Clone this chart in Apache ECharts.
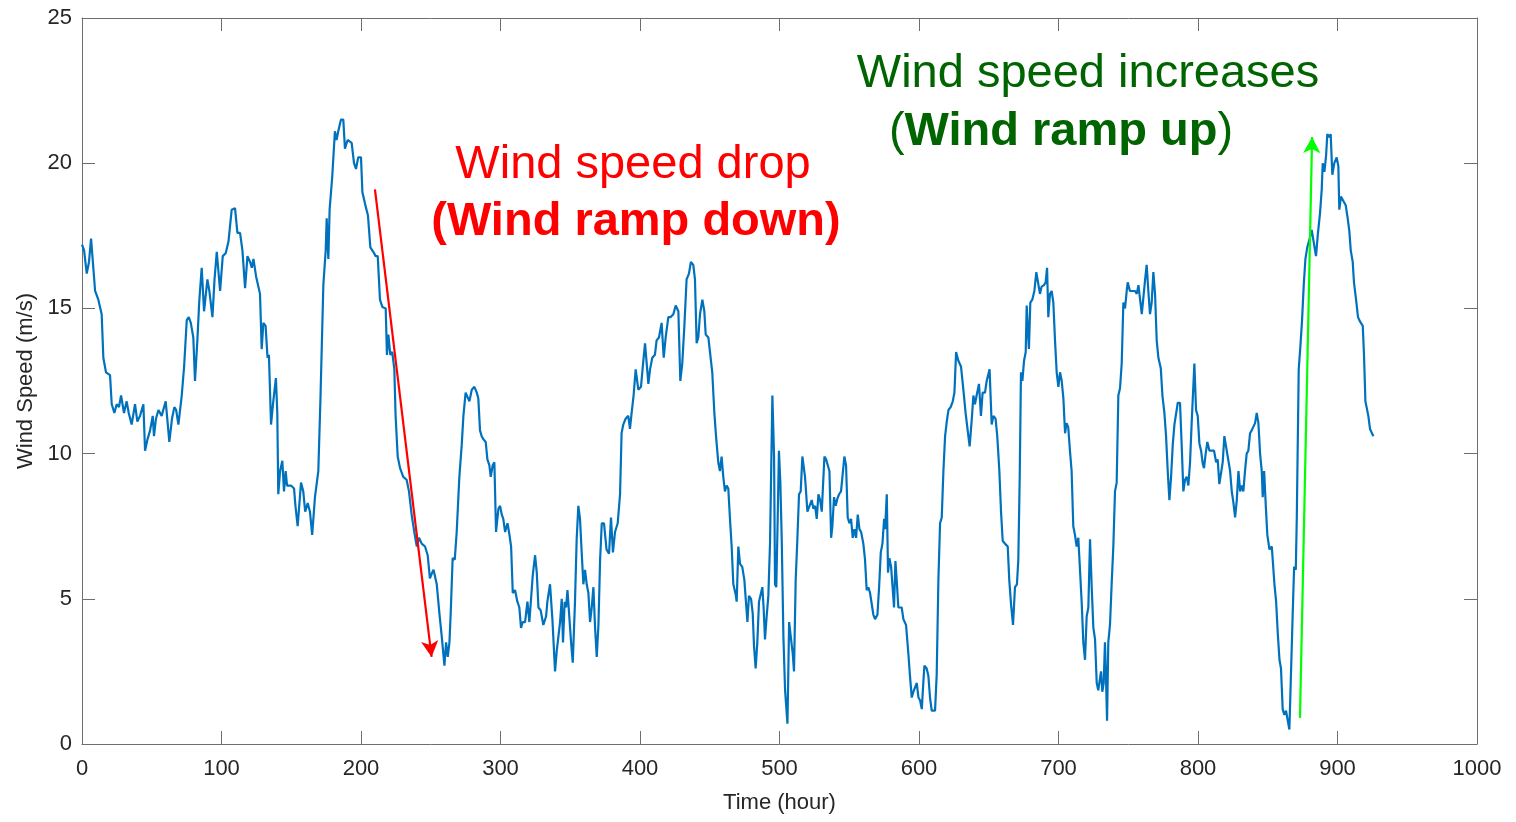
<!DOCTYPE html>
<html>
<head>
<meta charset="utf-8">
<script src="https://cdn.jsdelivr.net/npm/echarts@6/dist/echarts.min.js"></script>
<style>html,body{margin:0;padding:0;background:#fff}#c{width:1516px;height:822px}</style>
</head>
<body>
<div id="c"></div>
<script>
// [hour, wind speed m/s]
const windSpeed = [
[0,17.2],[1.5,17.0],[3.4,16.2],[5,16.6],[6.5,17.4],[7.7,17.4],[9.4,15.6],[11.7,15.3],[14.1,14.8],[15.3,13.3],[17.2,12.8],[20.1,12.7],[21.3,11.7],[23.2,11.4],[24.9,11.7],[26.5,11.6],[28,12.0],[30.1,11.4],[32,11.8],[33.5,11.4],[35.6,11.0],[38,11.7],[39.7,11.1],[41.6,11.3],[44,11.7],[45.2,10.1],[47,10.5],[48.8,10.8],[50.7,11.3],[51.6,10.6],[53,11.2],[54.8,11.5],[57.1,11.3],[60,11.8],[61.5,11.0],[62.6,10.4],[64.5,11.2],[66.2,11.6],[67.5,11.5],[69.1,11.0],[71.5,12.0],[73.2,13.0],[75.1,14.6],[76.5,14.7],[78,14.5],[79.8,14.0],[81,12.5],[82.7,13.9],[84,15.2],[85.8,16.4],[87.5,14.9],[89.9,16.0],[91.3,15.6],[93.5,14.7],[95,16.0],[96.6,16.95],[99,15.6],[100.9,16.8],[103,16.9],[105,17.3],[107.3,18.4],[109.7,18.45],[111.4,17.6],[113.3,17.6],[115,17.0],[116.9,15.7],[118.6,16.8],[120.5,16.6],[121.7,16.4],[122.9,16.7],[124.8,16.1],
[127.6,15.5],[128.8,13.6],[130,14.5],[131.6,14.4],[133,13.3],[134,13.4],[135.5,11.0],[137,11.75],[139,12.6],[140,11.4],[140.7,8.6],[142,9.4],[143.6,9.75],[144.8,8.7],[146,9.4],[147,8.9],[149.8,8.9],[152,8.8],[153,8.2],[154.6,7.5],[157,9.0],[158.6,8.7],[160,8.0],[161.8,8.3],[163.4,8.0],[165,7.2],[167,8.5],[169.4,9.4],[171,12.0],[173,15.8],[174.7,17.0],[175.4,18.1],[176.6,16.7],[177.5,18.4],[179.4,19.55],[181.3,21.1],[182.5,20.8],[183.7,21.1],[185.6,21.5],[187.3,21.5],[188.5,20.5],[190.4,20.8],[193.3,20.7],[195,20.0],[196.4,19.8],[198,20.2],[200,20.2],[201,19.0],[202.9,18.6],[205,18.2],[206.7,17.1],[208.8,16.95],[210.5,16.8],[212,16.8],[213.6,15.3],[215.3,15.05],[217.7,15.0],[218.6,13.4],[219.6,14.1],[221,13.4],[222.4,13.5],[223.9,12.9],[224.8,11.3],[226.3,9.9],[228,9.5],[230.3,9.2],[232.7,9.1],[234.4,8.7],[236.3,7.9],[238.2,7.3],[240,6.8],[241.6,7.1],[243.5,6.9],[245.9,6.8],[247.8,6.5],[249.4,5.7],[251,5.9],
[252,6.0],[254.3,5.5],[256.2,4.5],[257.9,3.7],[259.8,2.7],[261,3.5],[262.2,3.0],[263.4,3.5],[264.3,4.5],[265.7,6.4],[267.2,6.35],[268.6,7.3],[270.5,9.2],[272.2,10.3],[273.4,11.3],[275,12.1],[276.3,12.1],[277.7,11.8],[279.4,12.2],[281.3,12.3],[283,12.1],[284.1,11.9],[285.3,10.8],[286.5,10.6],[287.7,10.5],[289.4,10.4],[290.6,9.8],[292,9.6],[293,9.2],[294.4,9.6],[295.6,9.7],[296.8,7.3],[298.5,8.1],[299.7,8.2],[300.9,7.9],[302,7.75],[303.3,7.3],[305,7.6],[306.1,7.3],[307.6,6.8],[308.8,5.2],[310.4,5.3],[312.1,4.9],[313.5,4.7],[314.7,4.0],[315.9,4.2],[317.6,4.2],[319.3,4.9],[320.7,4.2],[321.9,5.0],[323.1,5.8],[324.8,6.5],[326,5.9],[327.2,4.7],[328.8,4.6],[330.7,4.1],[332.7,4.4],[333.6,4.9],[335.5,5.5],[337.2,4.3],[339.1,2.5],[340.3,3.2],[341.5,3.25],[342.7,4.2],[343.9,5.0],[344.8,3.5],[346,4.9],[347,4.7],[348,5.3],[349.4,5.3],[350.6,3.5],[351.8,2.8],[353.4,4.9],[354.6,7.05],[355.8,8.2],[357,7.75],[358.2,6.6],[359.4,5.5],[360.6,6.0],[361.8,5.5],[363,5.2],[364.2,4.2],[365.4,4.7],[366.6,5.4],[367.8,4.0],[369,3.0],[370.2,4.1],[371.4,6.35],[372.6,7.6],[374.2,7.6],
[376,6.7],[377.8,6.55],[379.2,7.8],[380.6,6.6],[382.1,7.3],[384,7.6],[385.7,8.6],[386.8,10.7],[388,11.0],[389.7,11.2],[391.6,11.3],[392.8,10.85],[394,11.4],[395.4,12.0],[396.9,12.9],[398.1,12.9],[398.8,12.2],[400.7,12.3],[402.4,13.2],[403.6,13.8],[404.8,13.1],[406,12.4],[407.2,12.9],[408.8,13.3],[410.7,13.4],[411.9,13.9],[413.6,14.0],[415.5,14.5],[417,13.3],[418.4,14.0],[420.3,14.7],[422,14.7],[423.9,14.8],[425.6,15.1],[427.5,14.9],[428.9,12.5],[430.3,13.1],[431.8,14.4],[433.4,16.0],[435.1,16.2],[436.5,16.6],[438.2,16.5],[439.4,16.0],[440.6,13.8],[441.8,14.0],[443,14.8],[444.7,15.3],[446.1,14.9],[447.1,14.1],[449,14.0],[450.4,13.4],[451.8,12.8],[453.3,11.4],[454.5,10.6],[456.1,9.7],[457.3,9.4],[458.5,9.9],[459.7,9.2],[460.9,8.7],[462.1,8.9],[463.3,8.8],[464.5,7.75],[465.7,6.8],[466.9,5.5],[468.6,5.15],[469.3,4.9],[470.5,6.8],[471.7,6.2],[473.3,6.1],[474.8,5.65],[476,5.6],[477,4.2],[478.1,5.1],[479.6,5.0],[480.8,4.5],[481.7,3.4],[482.9,2.6],[484.1,3.5],[485.3,4.9],[486.5,4.9],[487.7,5.4],[488.6,4.7],[489.6,3.6],[490.8,4.4],[492,5.1],[493.2,6.9],[494.9,12.0],[496.1,9.9],[496.8,5.5],[497.7,5.4],[498.7,7.75],[499.6,10.1],[500.6,9.0],[501.6,7.05],[502.8,3.7],[504,1.85],[505.7,0.7],
[506.9,4.2],[508,4.2],[509.5,3.1],[510.4,2.5],[511.6,5.65],[512.8,7.05],[514,8.6],[515.2,8.7],[516.4,9.9],[517.1,9.9],[518.3,9.2],[520,8.0],[521.4,8.0],[523.1,8.4],[524.3,8.1],[525.5,8.2],[526.7,7.75],[527.9,8.6],[529.1,8.4],[530.3,8.0],[531,8.0],[532.2,9.9],[533.4,9.8],[534.6,9.6],[535.8,9.4],[537,7.1],[537.9,7.5],[539.1,8.5],[540.3,8.2],[541.5,8.45],[542.7,8.6],[544.1,8.7],[545.3,9.3],[546.5,9.9],[547.7,9.6],[548.9,7.8],[550.1,7.6],[551.3,7.75],[552.5,7.1],[553.7,7.4],[554.9,7.1],[556.1,7.9],[557.3,7.4],[558.5,7.3],[560.1,6.9],[561.3,6.35],[562.5,5.3],[563.7,5.4],[564.9,5.2],[566.1,5.2],[567.3,4.45],[568.5,4.3],[570.2,4.45],[571.4,5.4],[572.6,6.6],[573.8,6.9],[575,7.75],[575.7,7.4],[576.9,8.6],[577.8,5.9],[578.8,6.4],[580,6.1],[580.9,5.5],[582.1,4.7],[583.1,6.3],[584,5.65],[585.2,4.7],[586.4,4.7],[587.6,4.7],[588.8,4.3],[590.7,4.1],[592.4,3.1],[593.6,2.3],[594.8,1.6],[596,1.8],[597.2,1.8],[598.4,2.1],[599.6,1.6],[600.8,1.5],[602,1.2],[603.2,2.2],[603.9,2.7],[605.5,2.6],[606.7,2.35],[607.9,1.6],[609.1,1.15],[611.5,1.15],[612.7,2.4],[613.9,5.65],[615.1,7.6],[616.3,7.8],[617.5,9.4],[618.7,10.6],[619.9,11.1],[621.1,11.5],[622.7,11.6],[624.2,11.8],[625.4,12.1],[626.6,13.5],[628.2,13.2],
[630.1,13.0],[631.8,12.2],[633.4,11.4],[634.9,10.8],[636.3,10.25],[637.7,11.1],[639,12.0],[640.1,11.7],[641.3,12.0],[643,12.4],[644.4,11.3],[645.6,12.1],[647.3,12.1],[648.5,12.5],[649.7,12.5],[650.6,12.9],[652.1,11.0],[653.3,11.3],[654.9,11.2],[656.1,10.6],[657.6,9.4],[658.8,8.0],[660,7.0],[661.6,6.9],[663.6,6.8],[664.7,5.65],[666,4.8],[667.4,4.1],[668.8,5.4],[670.2,5.5],[671.2,6.35],[672.2,9.2],[673.1,12.8],[674.1,12.5],[675.3,13.2],[676.5,13.5],[677.2,15.1],[678.1,14.2],[678.8,13.6],[679.8,15.2],[681.2,15.3],[682.7,15.6],[684.1,16.25],[685.5,16.25],[686.7,15.5],[687.9,15.75],[689.6,15.8],[690.8,15.9],[691.8,16.4],[692.7,14.7],[693.9,15.5],[695.1,15.6],[696.3,15.2],[697.5,13.9],[698.7,12.8],[699.9,12.3],[701.1,12.8],[702.3,12.5],[703.5,11.9],[704.7,10.7],[705.8,11.05],[707,10.9],[708.2,10.1],[709.4,9.4],[710.6,7.5],[711.8,7.2],[713,6.8],[714.2,7.1],[715.4,7.1],[716.6,4.9],[717.8,3.5],[719,2.9],[720.2,4.4],[721.4,4.7],[722.6,7.05],[723.8,5.4],[725,4.0],[726.2,3.6],[727.4,2.1],[728.5,1.85],[729.7,1.85],[730.5,2.5],[731.4,1.8],[732.4,2.1],[733.3,3.5],[734.1,2.2],[734.8,0.8],[735.7,3.5],[736.9,4.1],[738.1,5.5],[739.3,6.8],[740.5,8.7],[741.7,9.0],[742.9,12.0],[744.1,12.25],[745.3,13.1],[746.5,15.2],[747.7,15.0],[748.9,15.6],[749.6,15.9],[751.2,15.6],[752.9,15.6],[754.9,15.6],[756.1,15.5],[757.3,15.8],[758.5,15.3],[759.7,14.8],[760.9,14.85],[762.1,16.0],[763.2,16.5],[764.4,15.6],[765.6,14.8],[766.8,15.2],[768,16.25],[769.2,15.5],[770.4,13.9],[771.6,13.3],[773.3,12.95],[774.5,12.0],[775.9,11.4],[777.1,10.6],[778.3,9.4],[779.5,8.4],[780.7,9.2],[781.9,10.3],[783.1,11.0],[784.3,10.95],[785.5,11.75],[787.1,11.75],[788.3,10.3],[789.5,8.7],[790.7,9.1],[791.9,9.2],[793.1,8.9],[794.3,9.7],[795.5,11.1],[797.4,13.1],[798.6,11.5],[799.8,11.3],[801,10.35],[802.2,10.1],[803.4,9.65],[804.3,9.5],[805.5,10.0],[806.7,10.4],[808.2,10.1],[809.8,10.1],[811.5,10.1],[813,9.7],[814.1,9.8],[815.3,8.95],[816.5,9.0],[817.7,9.7],[818.9,10.6],[820.6,10.1],[822,9.7],[823,9.4],[824.2,8.7],[825.4,8.3],[826.6,7.8],[827.8,8.4],[829,9.4],[830.2,8.7],[831.3,8.9],[832.5,8.7],[833.7,9.4],[834.9,10.0],[836.1,10.1],[837.3,10.7],[838.5,10.8],[839.7,10.8],[840.9,11.05],[842.1,11.4],[843.3,11.05],[844.5,10.0],[845.7,9.4],[846.4,8.5],[847.4,9.4],[848.6,8.2],[849.7,7.2],[851.2,6.7],[852.9,6.8],[854,6.8],[854.8,5.5],[856,4.9],[857.2,3.8],[858.4,2.9],[859.5,2.6],[860.7,1.2],[861.9,1.0],[863.1,1.15],[864.1,0.87],[865.5,0.5],[866.7,2.5],[867.9,4.5],[868.9,6.1],[870.1,6.0],[870.8,7.75],[872.2,12.9],[873.4,13.7],[874.6,14.6],[875.8,15.8],[877,16.7],[878.3,17.1],[880,17.4],[881.5,17.7],[882.8,17.7],[884.6,16.8],[885.8,17.5],[887.5,18.3],[888.7,19.1],[889.4,20.0],[890.6,19.7],[891.8,20.25],[892.7,21.0],[894.2,20.9],[895.1,21.0],[896.3,19.6],[897.7,20.0],[899.4,20.2],[900.6,19.9],[901.3,18.4],[902.5,18.85],[904.2,18.7],[905.9,18.55],[907.3,18.1],[908.5,17.65],[909.5,17.0],[910.9,16.6],[911.8,15.9],[913.3,15.3],[914.7,14.7],[916.1,14.55],[918.1,14.4],[919,13.4],[920,11.8],[921.4,11.75],[922.1,11.3],[923.3,10.85],[924.5,10.8],[925.7,10.6]
];
// arrows: [startHour, startSpeed, endHour, endSpeed]
const rampDownArrow = [210, 19.1, 250.6, 3.0];
const rampUpArrow = [873.1, 0.9, 881.8, 20.9];
const downText = ['Wind speed drop', '(Wind ramp down)'];
const upText = ['Wind speed increases', 'Wind ramp up'];
const xRange = [0, 1000, 100];
const yRange = [0, 25, 5];

const axisColor = '#6e6e6e';
const textColor = '#262626';
const FONT = '"Liberation Sans", Arial, sans-serif';

const chart = echarts.init(document.getElementById('c'), null, {renderer: 'canvas'});
function axisBase(range) {
  return {
    type: 'value', min: range[0], max: range[1], interval: range[2],
    axisLine: {show: true, onZero: false, lineStyle: {color: axisColor, width: 1}},
    axisTick: {show: true, inside: true, length: 13, lineStyle: {color: axisColor}},
    splitLine: {show: false}
  };
}
chart.setOption({
  animation: false,
  backgroundColor: '#fff',
  grid: {left: 82, right: 39, top: 18, bottom: 78, containLabel: false},
  xAxis: [
    Object.assign(axisBase(xRange), {
      position: 'bottom',
      name: 'Time (hour)', nameLocation: 'middle', nameGap: 48,
      nameTextStyle: {color: textColor, fontSize: 22, fontFamily: FONT},
      axisLabel: {color: textColor, fontSize: 22, fontFamily: FONT, margin: 14, formatter: v => String(v)}
    }),
    Object.assign(axisBase(xRange), {position: 'top', axisLabel: {show: false}})
  ],
  yAxis: [
    Object.assign(axisBase(yRange), {
      position: 'left',
      name: 'Wind Speed (m/s)', nameLocation: 'middle', nameGap: 44,
      nameTextStyle: {color: textColor, fontSize: 22, fontFamily: FONT},
      axisLabel: {color: textColor, fontSize: 22, fontFamily: FONT, margin: 10}
    }),
    Object.assign(axisBase(yRange), {position: 'right', axisLabel: {show: false}})
  ],
  series: [{
    type: 'line',
    xAxisIndex: 0, yAxisIndex: 0,
    data: windSpeed,
    showSymbol: false,
    symbol: 'none',
    lineStyle: {color: '#0072BD', width: 2.2},
    markLine: {
      silent: true,
      symbol: ['none', 'arrow'],
      symbolSize: [13, 16],
      label: {show: false},
      animation: false,
      data: [
        [{coord: [rampDownArrow[0], rampDownArrow[1]], lineStyle: {color: '#ff0000', width: 2.2, type: 'solid'}},
         {coord: [rampDownArrow[2], rampDownArrow[3]]}],
        [{coord: [rampUpArrow[0], rampUpArrow[1]], lineStyle: {color: '#00ff00', width: 2.2, type: 'solid'}},
         {coord: [rampUpArrow[2], rampUpArrow[3]]}]
      ]
    }
  }],
  graphic: [
    {type: 'text', style: {text: downText[0], fill: '#ff0000', font: '47px ' + FONT, textAlign: 'center', textVerticalAlign: 'middle', x: 633, y: 165}},
    {type: 'text', style: {text: downText[1], fill: '#ff0000', font: 'bold 47px ' + FONT, textAlign: 'center', textVerticalAlign: 'middle', x: 636, y: 222}},
    {type: 'text', style: {text: upText[0], fill: '#006400', font: '47px ' + FONT, textAlign: 'center', textVerticalAlign: 'middle', x: 1088, y: 74}},
    {type: 'text', style: {
      text: '{p|(}{b|' + upText[1] + '}{p|)}',
      fill: '#006400', textAlign: 'center', textVerticalAlign: 'middle', x: 1061, y: 132,
      rich: {
        p: {fill: '#006400', font: '47px ' + FONT},
        b: {fill: '#006400', font: 'bold 47px ' + FONT}
      }
    }}
  ]
});
</script>
</body>
</html>
